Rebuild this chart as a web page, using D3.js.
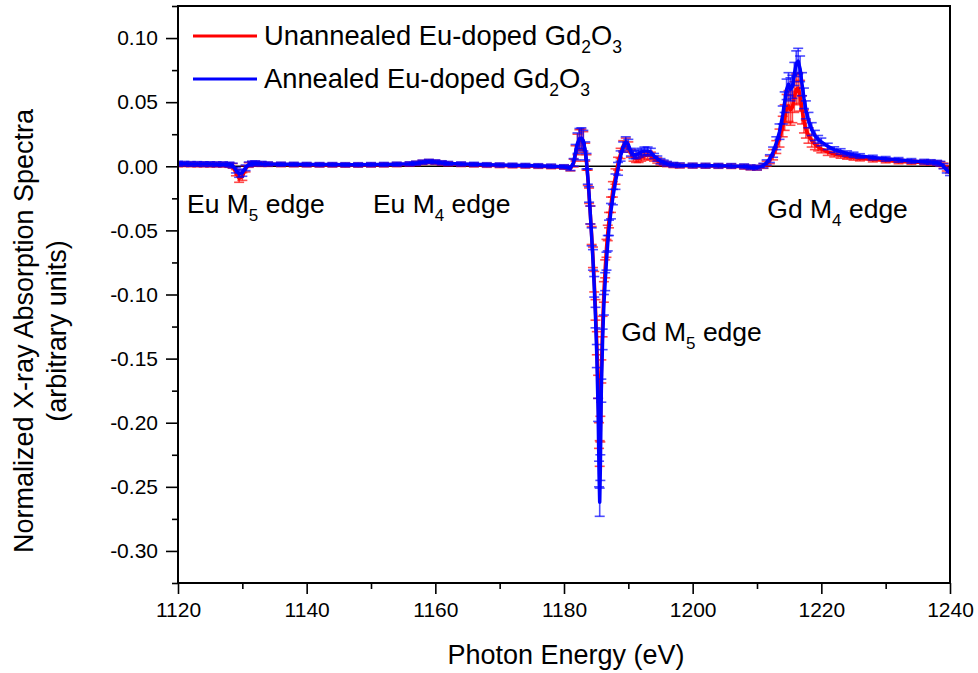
<!DOCTYPE html>
<html>
<head>
<meta charset="utf-8">
<script src="https://cdn.jsdelivr.net/npm/d3@7"></script>
<style>
  body { margin: 0; background: #fff; }
  svg { display: block; font-family: Arial, "Liberation Sans", sans-serif; }
  .axis text { font-size: 21px; fill: #000; }
  .axis path, .axis line { stroke: #000; stroke-width: 1.6px; }
</style>
</head>
<body>
<div id="chart"></div>
<script>
// photon energy grid (eV)
const energy = [
  1120, 1121, 1122, 1123, 1124, 1125, 1126, 1127, 1128,
  1128.5, 1129, 1129.5, 1130, 1130.5, 1131, 1131.5, 1132, 1133,
  1134, 1136, 1138, 1140, 1142, 1144, 1146, 1148, 1150, 1152, 1154, 1156,
  1157, 1158, 1159, 1160, 1161, 1162,
  1164, 1166, 1168, 1170, 1172, 1174, 1176, 1178, 1180,
  1181, 1181.5, 1181.8, 1182.1, 1182.4, 1182.7, 1183.0, 1183.3, 1183.5,
  1183.7, 1183.9, 1184.1, 1184.3, 1184.5, 1184.7, 1184.9, 1185.1, 1185.3,
  1185.45, 1185.55, 1185.65,
  1185.8, 1186.0, 1186.2, 1186.4, 1186.6, 1186.8, 1187.0, 1187.3, 1187.6, 1188.0, 1188.4, 1188.8,
  1189.2, 1189.6, 1190.0, 1190.4, 1190.8, 1191.2, 1191.6, 1192.0, 1192.5, 1193.0, 1193.5, 1194.0, 1194.5, 1195.0,
  1195.5, 1196, 1197, 1198, 1200, 1202, 1204, 1206, 1208, 1209, 1210,
  1211, 1211.5, 1212, 1212.5, 1213, 1213.5, 1214, 1214.3, 1214.6,
  1214.9, 1215.2, 1215.5, 1215.8, 1216.1, 1216.4, 1216.7, 1217.0,
  1217.3, 1217.6, 1218.0, 1218.5, 1219, 1219.5, 1220, 1221,
  1222, 1223, 1224, 1225, 1226, 1228, 1230, 1232, 1234, 1236, 1237, 1238, 1238.5, 1239, 1239.5, 1240
];

// unannealed Eu-doped Gd2O3 (red)
const unannealed = [
  0.0015, 0.0016, 0.0015, 0.0014, 0.0014, 0.0013, 0.0013, 0.0012, 0.0010,
  0.0003, -0.0050, -0.0095, -0.0080, -0.0020, 0.0010, 0.0018, 0.0020, 0.0017,
  0.0015, 0.0013, 0.0012, 0.0011, 0.0010, 0.0010, 0.0009, 0.0009, 0.0010, 0.0011, 0.0013, 0.0016,
  0.0022, 0.0030, 0.0036, 0.0031, 0.0024, 0.0019,
  0.0014, 0.0011, 0.0008, 0.0006, 0.0004, 0.0002, 0.0000, -0.0003, -0.0007,
  -0.0018, 0.0025, 0.0100, 0.0170, 0.0205, 0.0210, 0.0190, 0.0110, 0.0030,
  -0.0090, -0.0230, -0.0380, -0.0540, -0.0710, -0.0900, -0.1120, -0.1380, -0.1720,
  -0.2100, -0.2240, -0.2050,
  -0.1600, -0.1250, -0.0980, -0.0800, -0.0640, -0.0520, -0.0420, -0.0300, -0.0180, -0.0080, 0.0020, 0.0100,
  0.0160, 0.0180, 0.0150, 0.0100, 0.0070, 0.0060, 0.0060, 0.0070, 0.0080, 0.0090, 0.0080, 0.0060, 0.0045, 0.0030,
  0.0022, 0.0015, 0.0008, 0.0005, 0.0004, 0.0003, 0.0002, 0.0001, -0.0004, -0.0010, -0.0012,
  0.0002, 0.0020, 0.0050, 0.0090, 0.0150, 0.0220, 0.0310, 0.0380, 0.0450,
  0.0470, 0.0440, 0.0460, 0.0540, 0.0600, 0.0610, 0.0550, 0.0440,
  0.0350, 0.0290, 0.0240, 0.0200, 0.0170, 0.0150, 0.0135, 0.0110,
  0.0095, 0.0085, 0.0075, 0.0068, 0.0060, 0.0052, 0.0045, 0.0038, 0.0033, 0.0030, 0.0028, 0.0025, 0.0018, 0.0005, -0.0015, -0.0030
];
const unannealedErr = [
  0.0018, 0.0018, 0.0018, 0.0018, 0.0018, 0.0018, 0.0018, 0.0018, 0.0018,
  0.0018, 0.0024, 0.0030, 0.0030, 0.0024, 0.0018, 0.0018, 0.0018, 0.0018,
  0.0016, 0.0016, 0.0016, 0.0016, 0.0016, 0.0016, 0.0016, 0.0016, 0.0016, 0.0016, 0.0016, 0.0016,
  0.0016, 0.0016, 0.0016, 0.0016, 0.0016, 0.0016,
  0.0016, 0.0016, 0.0016, 0.0016, 0.0016, 0.0016, 0.0016, 0.0016, 0.0016,
  0.0018, 0.003, 0.006, 0.008, 0.008, 0.008, 0.008, 0.007, 0.006,
  0.006, 0.006, 0.007, 0.007, 0.008, 0.008, 0.008, 0.009, 0.009,
  0.010, 0.010, 0.010,
  0.009, 0.008, 0.008, 0.007, 0.007, 0.006, 0.006, 0.006, 0.006, 0.006, 0.005, 0.004,
  0.004, 0.004, 0.004, 0.003, 0.003, 0.003, 0.003, 0.003, 0.003, 0.003, 0.003, 0.002, 0.002, 0.002,
  0.0018, 0.0018, 0.0018, 0.0018, 0.0018, 0.0018, 0.0018, 0.0018, 0.0018, 0.0018, 0.0018,
  0.0018, 0.002, 0.003, 0.004, 0.005, 0.007, 0.008, 0.010, 0.011,
  0.012, 0.012, 0.012, 0.012, 0.012, 0.012, 0.012, 0.011,
  0.009, 0.007, 0.006, 0.005, 0.004, 0.003, 0.003, 0.0025,
  0.0022, 0.0022, 0.002, 0.002, 0.0018, 0.0018, 0.0018, 0.0018, 0.0018, 0.0018, 0.0018, 0.0018, 0.0018, 0.002, 0.0022, 0.0022
];

// annealed Eu-doped Gd2O3 (blue)
const annealed = [
  0.0020, 0.0020, 0.0018, 0.0018, 0.0017, 0.0017, 0.0016, 0.0016, 0.0014,
  0.0006, -0.0030, -0.0058, -0.0050, -0.0012, 0.0015, 0.0022, 0.0024, 0.0020,
  0.0018, 0.0016, 0.0015, 0.0014, 0.0013, 0.0013, 0.0012, 0.0012, 0.0013, 0.0014, 0.0016, 0.0019,
  0.0024, 0.0032, 0.0038, 0.0034, 0.0027, 0.0022,
  0.0018, 0.0015, 0.0012, 0.0010, 0.0008, 0.0006, 0.0004, 0.0001, -0.0004,
  -0.0015, 0.0030, 0.0110, 0.0180, 0.0215, 0.0220, 0.0200, 0.0120, 0.0040,
  -0.0080, -0.0220, -0.0380, -0.0550, -0.0730, -0.0940, -0.1180, -0.1480, -0.1900,
  -0.2400, -0.2620, -0.2350,
  -0.1750, -0.1350, -0.1080, -0.0900, -0.0740, -0.0600, -0.0480, -0.0350, -0.0240, -0.0120, -0.0020, 0.0080,
  0.0150, 0.0190, 0.0170, 0.0110, 0.0090, 0.0090, 0.0100, 0.0110, 0.0120, 0.0120, 0.0110, 0.0080, 0.0060, 0.0040,
  0.0030, 0.0020, 0.0012, 0.0008, 0.0006, 0.0005, 0.0004, 0.0003, 0.0000, -0.0008, -0.0010,
  0.0005, 0.0030, 0.0060, 0.0110, 0.0180, 0.0270, 0.0400, 0.0500, 0.0600,
  0.0640, 0.0600, 0.0620, 0.0720, 0.0800, 0.0820, 0.0760, 0.0640,
  0.0530, 0.0440, 0.0360, 0.0290, 0.0240, 0.0210, 0.0190, 0.0155,
  0.0130, 0.0115, 0.0100, 0.0090, 0.0080, 0.0068, 0.0058, 0.0050, 0.0042, 0.0036, 0.0033, 0.0028, 0.0020, 0.0000, -0.0030, -0.0050
];
const annealedErr = [
  0.0018, 0.0018, 0.0018, 0.0018, 0.0018, 0.0018, 0.0018, 0.0018, 0.0018,
  0.0018, 0.0022, 0.0028, 0.0028, 0.0022, 0.0018, 0.0018, 0.0018, 0.0018,
  0.0016, 0.0016, 0.0016, 0.0016, 0.0016, 0.0016, 0.0016, 0.0016, 0.0016, 0.0016, 0.0016, 0.0016,
  0.0016, 0.0016, 0.0016, 0.0016, 0.0016, 0.0016,
  0.0016, 0.0016, 0.0016, 0.0016, 0.0016, 0.0016, 0.0016, 0.0016, 0.0016,
  0.0018, 0.003, 0.006, 0.008, 0.008, 0.008, 0.008, 0.007, 0.006,
  0.006, 0.006, 0.007, 0.007, 0.008, 0.008, 0.008, 0.009, 0.009,
  0.010, 0.011, 0.010,
  0.009, 0.008, 0.008, 0.007, 0.007, 0.006, 0.006, 0.006, 0.006, 0.006, 0.005, 0.004,
  0.004, 0.004, 0.004, 0.003, 0.003, 0.003, 0.003, 0.003, 0.003, 0.003, 0.003, 0.002, 0.002, 0.002,
  0.0018, 0.0018, 0.0018, 0.0018, 0.0018, 0.0018, 0.0018, 0.0018, 0.0018, 0.0018, 0.0018,
  0.0018, 0.002, 0.003, 0.004, 0.005, 0.006, 0.007, 0.008, 0.008,
  0.009, 0.009, 0.009, 0.009, 0.010, 0.010, 0.010, 0.009,
  0.008, 0.007, 0.006, 0.005, 0.004, 0.003, 0.003, 0.0025,
  0.0022, 0.0022, 0.002, 0.002, 0.0018, 0.0018, 0.0018, 0.0018, 0.0018, 0.0018, 0.0018, 0.0018, 0.0018, 0.002, 0.0022, 0.0022
];

const xTicks = [1120, 1140, 1160, 1180, 1200, 1220, 1240];
const xMinor = [1130, 1150, 1170, 1190, 1210, 1230];
const yTicks = [-0.30, -0.25, -0.20, -0.15, -0.10, -0.05, 0.00, 0.05, 0.10];
const yMinor = [-0.325, -0.275, -0.225, -0.175, -0.125, -0.075, -0.025, 0.025, 0.075, 0.125];

const edgeLabels = [
  { e: 1121.4, v: -0.0365, name: "Eu M", sub: "5" },
  { e: 1150.3, v: -0.0365, name: "Eu M", sub: "4" },
  { e: 1211.6, v: -0.0405, name: "Gd M", sub: "4" },
  { e: 1188.9, v: -0.1360, name: "Gd M", sub: "5" }
];

const series = [
  { name: "Unannealed Eu-doped Gd", values: unannealed, err: unannealedErr, color: "#ff0000" },
  { name: "Annealed Eu-doped Gd", values: annealed, err: annealedErr, color: "#0000ff" }
];

const W = 978, H = 673;
const mLeft = 178, mRight = 950, mTop = 6, mBottom = 583;

const svg = d3.select('#chart').append('svg')
  .attr('width', W)
  .attr('height', H);

const x = d3.scaleLinear().domain([1120, 1240]).range([mLeft, mRight]);
const y = d3.scaleLinear().domain([-0.325, 0.125]).range([mBottom, mTop]);

// data layer, clipped to the frame
svg.append('clipPath').attr('id', 'clip')
  .append('rect').attr('x', mLeft).attr('y', mTop).attr('width', mRight - mLeft).attr('height', mBottom - mTop);

const plot = svg.append('g').attr('clip-path', 'url(#clip)');

// zero line
plot.append('line')
  .attr('x1', mLeft).attr('x2', mRight)
  .attr('y1', y(0)).attr('y2', y(0))
  .attr('stroke', '#000').attr('stroke-width', 1.6);

const line = d3.line()
  .x(d => x(d.e))
  .y(d => y(d.v));

const cap = 5;

series.forEach(s => {
  const pts = energy.map((e, i) => ({ e: e, v: s.values[i], err: s.err[i] }));
  const g = plot.append('g');

  const bars = g.append('g')
    .attr('stroke', s.color)
    .attr('stroke-width', 1.6)
    .attr('stroke-opacity', 0.7)
    .selectAll('g')
    .data(pts)
    .enter().append('g');

  bars.append('line')
    .attr('x1', d => x(d.e)).attr('x2', d => x(d.e))
    .attr('y1', d => y(d.v - d.err)).attr('y2', d => y(d.v + d.err));
  bars.append('line')
    .attr('x1', d => x(d.e) - cap).attr('x2', d => x(d.e) + cap)
    .attr('y1', d => y(d.v + d.err)).attr('y2', d => y(d.v + d.err));
  bars.append('line')
    .attr('x1', d => x(d.e) - cap).attr('x2', d => x(d.e) + cap)
    .attr('y1', d => y(d.v - d.err)).attr('y2', d => y(d.v - d.err));

  g.append('path')
    .datum(pts)
    .attr('fill', 'none')
    .attr('stroke', s.color)
    .attr('stroke-width', 3.5)
    .attr('stroke-linejoin', 'round')
    .attr('d', line);
});

// frame
svg.append('rect')
  .attr('x', mLeft).attr('y', mTop)
  .attr('width', mRight - mLeft).attr('height', mBottom - mTop)
  .attr('fill', 'none')
  .attr('stroke', '#000')
  .attr('stroke-width', 2);

// axes
svg.append('g')
  .attr('class', 'axis')
  .attr('transform', `translate(0,${mBottom})`)
  .call(d3.axisBottom(x).tickValues(xTicks).tickFormat(d3.format('d')).tickSize(11).tickPadding(8))
  .call(g => g.select('.domain').remove());

svg.append('g')
  .attr('class', 'axis')
  .attr('transform', `translate(0,${mBottom})`)
  .call(d3.axisBottom(x).tickValues(xMinor).tickFormat('').tickSize(6))
  .call(g => g.select('.domain').remove());

svg.append('g')
  .attr('class', 'axis')
  .attr('transform', `translate(${mLeft},0)`)
  .call(d3.axisLeft(y).tickValues(yTicks).tickFormat(d => d.toFixed(2)).tickSize(12).tickPadding(8))
  .call(g => g.select('.domain').remove());

svg.append('g')
  .attr('class', 'axis')
  .attr('transform', `translate(${mLeft},0)`)
  .call(d3.axisLeft(y).tickValues(yMinor).tickFormat('').tickSize(6))
  .call(g => g.select('.domain').remove());

// axis titles
svg.append('text')
  .attr('x', 566)
  .attr('y', 664)
  .attr('text-anchor', 'middle')
  .style('font-size', '27px')
  .text('Photon Energy (eV)');

const yTitle = svg.append('text')
  .attr('transform', 'translate(0,331) rotate(-90)')
  .attr('text-anchor', 'middle')
  .style('font-size', '27px');
yTitle.append('tspan').attr('x', 0).attr('y', 33).text('Normalized X-ray Absorption Spectra');
yTitle.append('tspan').attr('x', 0).attr('y', 66).text('(arbitrary units)');

// legend
const legend = svg.append('g');
series.forEach((s, i) => {
  const ly = 36 + i * 43;
  legend.append('line')
    .attr('x1', 193).attr('x2', 257)
    .attr('y1', ly).attr('y2', ly)
    .attr('stroke', s.color).attr('stroke-width', 3);
  const t = legend.append('text')
    .attr('x', 264).attr('y', ly + 9)
    .style('font-size', '27.3px');
  t.append('tspan').text(s.name);
  t.append('tspan').attr('dy', 8).style('font-size', '17.5px').text('2');
  t.append('tspan').attr('dy', -8).text('O');
  t.append('tspan').attr('dy', 8).style('font-size', '17.5px').text('3');
});

// edge annotations
edgeLabels.forEach(d => {
  const t = svg.append('text')
    .attr('x', x(d.e)).attr('y', y(d.v))
    .style('font-size', '26.5px');
  t.append('tspan').text(d.name);
  t.append('tspan').attr('dy', 8).style('font-size', '17px').text(d.sub);
  t.append('tspan').attr('dy', -8).text(' edge');
});
</script>
</body>
</html>
